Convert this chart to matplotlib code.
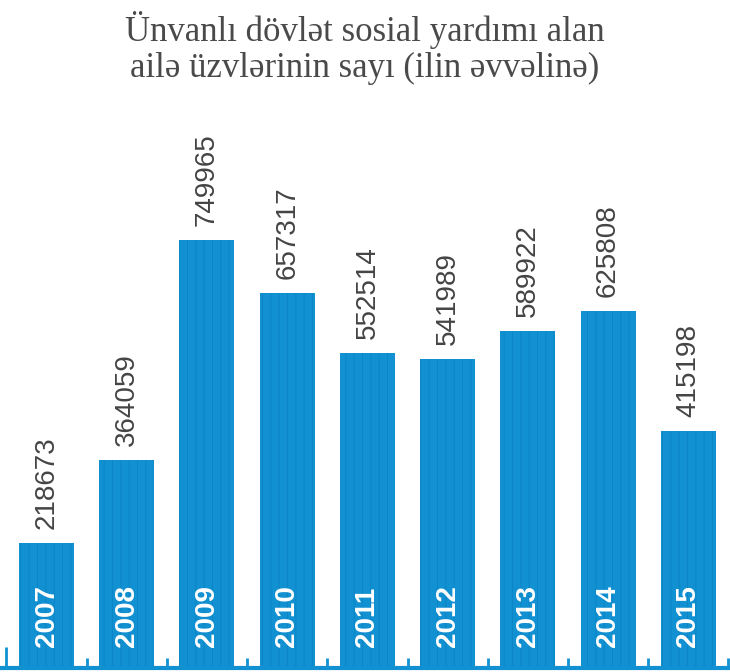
"""Members of families receiving targeted state social assistance."""

import numpy as np
from matplotlib import pyplot as plt

years: list = ['2007', '2008', '2009', '2010', '2011', '2012', '2013', '2014', '2015']
values: list = [218673, 364059, 749965, 657317, 552514, 541989, 589922, 625808, 415198]
title: str = 'Ünvanlı dövlət sosial yardımı alan\nailə üzvlərinin sayı (ilin əvvəlinə)'

blue = '#1190d2'
plt.rcParams['hatch.linewidth'] = 0.6

fig = plt.figure(figsize=(7.3, 6.72), dpi=100)
ax = fig.add_axes([0, 4 / 672, 1, 668 / 672])

x = np.arange(len(years))
bars = ax.bar(x, values, width=0.686, color=blue, edgecolor='#0b84c3',
              linewidth=0, hatch='||')

for xi, v, yr in zip(x, values, years):
    ax.annotate(str(v), (xi, v), xytext=(0, 10), textcoords='offset points',
                rotation=90, ha='center', va='bottom', fontsize=20,
                family='Liberation Sans', color='#444444')
    ax.annotate(yr, (xi, 0), xytext=(0, 15), textcoords='offset points',
                rotation=90, ha='center', va='bottom', fontsize=20,
                family='Liberation Sans', fontweight='bold', color='white')

ax.set_xlim(-0.58, 8.52)
ax.set_ylim(0, 1170500)
for s in ['top', 'left', 'right']:
    ax.spines[s].set_visible(False)
ax.spines['bottom'].set_color(blue)
ax.spines['bottom'].set_linewidth(3)
ax.set_yticks([])
ax.set_xticks(np.arange(0.5, len(years)))
ax.set_xticks([-0.5], minor=True)
ax.tick_params(axis='x', which='major', direction='in', length=7, width=2,
               color=blue, labelbottom=False)
ax.tick_params(axis='x', which='minor', direction='in', length=15, width=2,
               color=blue, labelbottom=False)

fig.text(0.5, 1 - 48 / 672, title, ha='center', va='center',
         family='Liberation Serif', fontsize=25, color='#4a4a4a',
         linespacing=1.15)

fig.savefig('out.png', dpi=100)
